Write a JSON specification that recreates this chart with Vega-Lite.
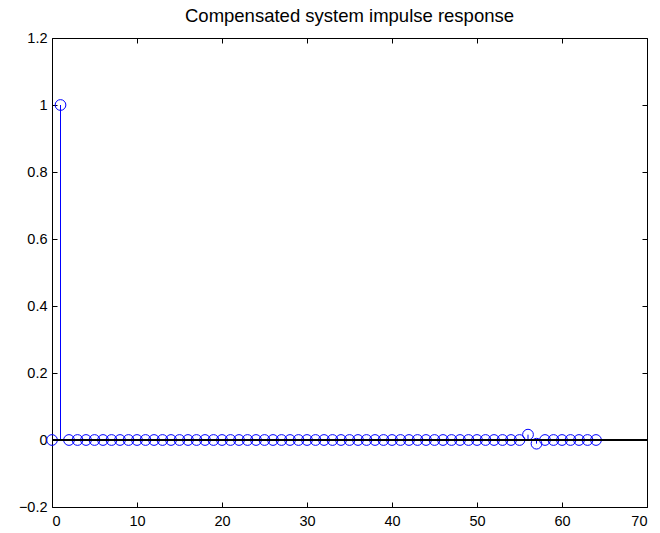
{
  "$schema": "https://vega.github.io/schema/vega-lite/v6.json",
  "autosize": "none",
  "width": 595,
  "height": 469,
  "padding": {"left": 52, "top": 38, "right": 13, "bottom": 26},
  "background": "white",
  "title": {"text": "Compensated system impulse response", "fontSize": 18.5, "font": "Liberation Sans", "fontWeight": "normal", "anchor": "middle", "offset": 5, "color": "black"},
  "config": {
    "view": {"stroke": "black", "strokeWidth": 1},
    "axis": {"grid": false, "domain": false, "tickColor": "black", "tickSize": -5, "labelFont": "Liberation Sans", "labelFontSize": 14.5, "labelColor": "black", "title": null},
    "axisX": {"labelPadding": 12},
    "axisY": {"labelPadding": 10}
  },
  "data": {"values": [
    {"n": 0, "v": 0}, {"n": 1, "v": 1.0}, {"n": 2, "v": 0}, {"n": 3, "v": 0}, {"n": 4, "v": 0},
    {"n": 5, "v": 0}, {"n": 6, "v": 0}, {"n": 7, "v": 0}, {"n": 8, "v": 0}, {"n": 9, "v": 0},
    {"n": 10, "v": 0}, {"n": 11, "v": 0}, {"n": 12, "v": 0}, {"n": 13, "v": 0}, {"n": 14, "v": 0},
    {"n": 15, "v": 0}, {"n": 16, "v": 0}, {"n": 17, "v": 0}, {"n": 18, "v": 0}, {"n": 19, "v": 0},
    {"n": 20, "v": 0}, {"n": 21, "v": 0}, {"n": 22, "v": 0}, {"n": 23, "v": 0}, {"n": 24, "v": 0},
    {"n": 25, "v": 0}, {"n": 26, "v": 0}, {"n": 27, "v": 0}, {"n": 28, "v": 0}, {"n": 29, "v": 0},
    {"n": 30, "v": 0}, {"n": 31, "v": 0}, {"n": 32, "v": 0}, {"n": 33, "v": 0}, {"n": 34, "v": 0},
    {"n": 35, "v": 0}, {"n": 36, "v": 0}, {"n": 37, "v": 0}, {"n": 38, "v": 0}, {"n": 39, "v": 0},
    {"n": 40, "v": 0}, {"n": 41, "v": 0}, {"n": 42, "v": 0}, {"n": 43, "v": 0}, {"n": 44, "v": 0},
    {"n": 45, "v": 0}, {"n": 46, "v": 0}, {"n": 47, "v": 0}, {"n": 48, "v": 0}, {"n": 49, "v": 0},
    {"n": 50, "v": 0}, {"n": 51, "v": 0}, {"n": 52, "v": 0}, {"n": 53, "v": 0}, {"n": 54, "v": 0},
    {"n": 55, "v": 0}, {"n": 56, "v": 0.016}, {"n": 57, "v": -0.011}, {"n": 58, "v": 0}, {"n": 59, "v": 0},
    {"n": 60, "v": 0}, {"n": 61, "v": 0}, {"n": 62, "v": 0}, {"n": 63, "v": 0}, {"n": 64, "v": 0}
  ]},
  "layer": [
    {
      "mark": {"type": "rule", "color": "#0000FF", "strokeWidth": 1},
      "encoding": {
        "x": {"field": "n", "type": "quantitative", "scale": {"domain": [0, 70], "nice": false},
              "axis": {"orient": "bottom", "values": [0, 10, 20, 30, 40, 50, 60, 70]}},
        "y": {"field": "v", "type": "quantitative", "scale": {"domain": [-0.2, 1.2], "nice": false, "zero": false},
              "axis": {"orient": "left", "values": [-0.2, 0, 0.2, 0.4, 0.6, 0.8, 1, 1.2], "format": "~g"}},
        "y2": {"datum": 0}
      }
    },
    {
      "mark": {"type": "point", "shape": "circle", "filled": false, "color": "#0000FF", "strokeWidth": 1, "size": 115, "opacity": 1},
      "encoding": {
        "x": {"field": "n", "type": "quantitative",
              "axis": {"orient": "top", "values": [0, 10, 20, 30, 40, 50, 60, 70], "labels": false}},
        "y": {"field": "v", "type": "quantitative",
              "axis": {"orient": "right", "values": [-0.2, 0, 0.2, 0.4, 0.6, 0.8, 1, 1.2], "labels": false}}
      }
    },
    {
      "mark": {"type": "rule", "color": "black", "strokeWidth": 1},
      "encoding": {"y": {"datum": 0, "type": "quantitative", "axis": null}}
    }
  ],
  "resolve": {"axis": {"x": "independent", "y": "independent"}}
}
